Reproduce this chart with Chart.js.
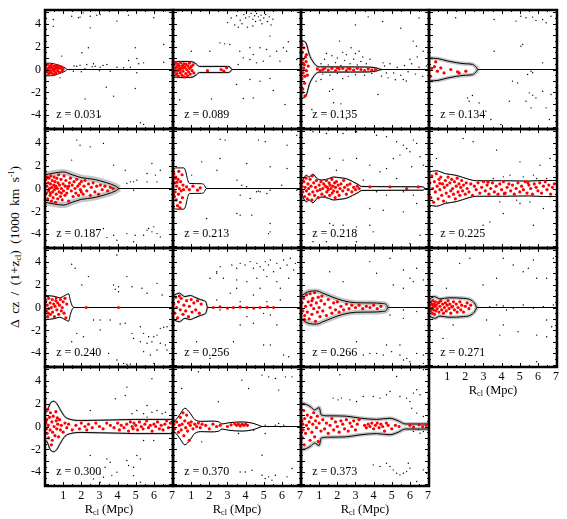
<!DOCTYPE html>
<html>
<head>
<meta charset="utf-8">
<script src="https://cdn.jsdelivr.net/npm/chart.js@4/dist/chart.umd.min.js"></script>
<style>
  body { margin: 0; background: #fff; }
  #fig { position: relative; width: 567px; height: 519px; font-family: 'Liberation Serif', serif; color: #000; }
  #fig canvas { position: absolute; }
  .xtitle { position: absolute; width: 128px; text-align: center; font-size: 12.5px; }
  .ytitle { position: absolute; left: 15px; top: 247px; transform: translate(-50%, -50%) rotate(-90deg); white-space: nowrap; font-size: 13.5px; word-spacing: 3px; }
  sub, sup { font-size: 8px; }
  sub { vertical-align: -2px; }
  sup { vertical-align: 5px; }
</style>
</head>
<body>
<div id="fig">
  <div class="ytitle">&Delta; cz / (1+z<sub>cl</sub>) (1000 km s<sup>-1</sup>)</div>
</div>
<script>
const xTickValues = [1, 2, 3, 4, 5, 6, 7]
const yTickValues = [-4, -2, 0, 2, 4]

// z = 0.031
const causticR031 = [0, 0.3, 0.6, 0.9, 1.1, 1.25, 7]
const causticA031 = [0.55, 0.55, 0.45, 0.3, 0.15, 0, 0]
const members031 = [[0.05,0.3],[0.1,-0.2],[0.15,0.45],[0.2,0.1],[0.2,-0.4],[0.25,0.25],[0.3,-0.1],[0.35,0.4],[0.35,-0.3],[0.4,0.15],[0.45,-0.45],[0.5,0.3],[0.5,-0.15],[0.55,0.05],[0.6,0.35],[0.6,-0.3],[0.65,0.2],[0.7,-0.1],[0.75,0.3],[0.8,-0.25],[0.85,0.1],[0.9,0.2],[0.95,-0.1],[1.0,0.05],[0.1,0.05],[0.3,0.2],[0.45,0.0],[0.7,0.1],[0.25,-0.25],[0.55,-0.4]]
const field031 = [[0.46,4.37],[1.47,4.66],[1.84,4.52],[1.93,4.58],[2.49,4.66],[2.85,4.75],[3.04,4.81],[4.6,4.75],[5.99,4.52],[2.1,4.95],[0.46,3.79],[3.96,4.23],[2.49,3.64],[6.54,2.19],[4.97,1.9],[2.39,1.9],[2.03,1.46],[0.92,1.17],[5.06,0.96],[5.43,0.58],[6.54,0.64],[4.6,0.79],[4.7,0.2],[5.16,0.5],[3.41,0.44],[2.67,0.5],[2.76,0.29],[1.75,0.29],[1.93,0.38],[2.3,0.44],[3.04,0.2],[3.96,0.2],[4.33,0.15],[4.51,0],[3.59,-0.15],[1.38,0],[1.56,-0.15],[5.06,-0.29],[0.83,-0.73],[3.37,-1.55],[3.78,-2.33],[4.97,-1.66],[2.21,-2.57],[5.25,-4.66],[5.43,-4.81],[3.04,-4.08],[1.6,0.3],[2.2,0.1],[2.6,0.25],[3.2,0.35],[3.0,-0.1],[2.0,-0.2]]

// z = 0.089
const causticR089 = [0, 0.4, 0.8, 1.1, 1.3, 1.45, 3.0, 3.15, 3.25, 7]
const causticA089 = [0.65, 0.7, 0.7, 0.65, 0.45, 0.27, 0.27, 0.2, 0, 0]
const members089 = [[0.05,0.4],[0.08,-0.2],[0.12,0.1],[0.15,0.55],[0.18,-0.45],[0.2,0.25],[0.25,-0.1],[0.28,0.45],[0.3,-0.6],[0.32,0.05],[0.35,0.3],[0.4,-0.3],[0.42,0.6],[0.45,0.1],[0.5,-0.5],[0.52,0.35],[0.55,-0.15],[0.6,0.5],[0.62,-0.65],[0.65,0.2],[0.7,-0.35],[0.72,0.45],[0.75,0.0],[0.8,-0.55],[0.82,0.3],[0.85,-0.2],[0.9,0.55],[0.92,0.1],[0.95,-0.4],[1.0,0.25],[1.05,-0.1],[1.1,0.4],[1.15,-0.3],[0.38,-0.05],[0.58,0.15],[0.22,-0.35],[1.9,-0.1],[2.65,0.0],[2.95,0.15],[2.8,-0.15]]
const field089 = [[3.0,4.1],[3.2,4.5],[3.4,3.9],[3.5,4.7],[3.7,4.3],[3.8,4.0],[3.9,4.8],[4.0,4.5],[4.1,3.7],[4.2,4.6],[4.3,4.9],[4.4,4.4],[4.5,4.7],[4.55,4.2],[4.6,4.9],[4.7,4.6],[4.8,4.3],[4.85,4.75],[4.9,4.0],[5.0,4.5],[5.1,4.8],[5.2,4.2],[5.3,4.6],[5.4,3.9],[5.5,4.4],[4.4,3.8],[3.6,3.7],[2.58,2.33],[3.13,2.19],[2.85,2.24],[5.34,2.92],[6.35,2.42],[4.24,1.9],[4.79,1.9],[5.16,1.75],[5.71,1.6],[6.26,1.6],[3.68,1.6],[2.03,1.6],[1.01,1.6],[4.42,1.31],[5.34,1.17],[4.24,0.87],[4.97,0.73],[4.6,0.58],[5.89,0.73],[3.59,0.44],[3.87,1.02],[5.34,-0.79],[4.24,-0.87],[4.79,-1.02],[5.52,-1.84],[4.42,-2.48],[3.87,-2.54],[2.12,-2.57],[0.37,-2.65],[6.17,-3.06],[3.5,-1.31],[6.81,0.87],[6.08,1.9]]

// z = 0.135
const causticR135 = [0, 0.1, 0.28, 0.46, 0.64, 0.83, 1.0, 3.5, 4.1, 4.45, 7]
const causticA135 = [2.6, 2.5, 2.3, 1.3, 0.73, 0.35, 0.23, 0.22, 0.15, 0, 0]
const members135 = [[0.05,2.2],[0.08,1.5],[0.1,0.9],[0.12,-0.3],[0.15,1.9],[0.18,0.4],[0.2,-1.2],[0.22,-2.3],[0.05,-0.8],[0.25,1.1],[0.3,-0.1],[0.1,-1.7],[0.28,0.7],[0.35,-0.5],[0.15,0.1],[0.2,-0.6],[0.4,0.3],[0.08,-2.0],[0.3,1.3],[0.12,0.55],[0.9,0.05],[1.05,-0.1],[1.3,0.1],[1.5,-0.05],[1.7,0.1],[1.9,-0.1],[2.1,0.05],[2.3,0.1],[2.5,-0.1],[2.7,0.05],[2.9,-0.05],[3.1,0.1],[3.3,0.0],[3.5,-0.1],[3.7,0.05],[3.9,-0.05],[4.1,0.0],[1.2,0.0],[2.0,0.15],[2.6,0.12]]
const field135 = [[2.76,1.9],[2.12,2.48],[1.57,-1.9],[1.75,-1.75],[0.83,-1.02],[1.1,-0.87],[6.18,2.48],[6.36,2.04],[6.73,1.6],[4.52,0.58],[4.43,-0.58],[4.8,-0.73],[5.63,-0.87],[4.24,-2.19],[1.1,0.5],[1.3,0.9],[1.5,0.4],[1.7,1.2],[1.9,0.6],[2.0,1.0],[2.2,0.35],[2.4,0.8],[2.5,1.3],[2.7,0.5],[2.9,0.9],[3.0,1.4],[3.1,0.4],[3.3,0.7],[3.4,1.1],[3.6,0.5],[3.8,0.9],[3.2,1.6],[2.3,1.5],[1.4,1.4],[1.2,-0.4],[1.6,-0.5],[2.0,-0.35],[2.6,-0.6],[3.0,-0.45],[3.5,-0.5],[3.9,-0.35],[2.3,-0.8],[4.6,0.3],[4.9,0.5],[5.1,-0.3],[5.3,0.2],[5.5,-0.5],[5.7,0.35],[5.9,-0.2],[6.1,0.5],[6.3,-0.4],[6.5,0.2],[6.7,-0.6],[6.9,0.3],[5.2,-0.9],[5.8,-1.0],[6.0,0.9],[6.4,1.1],[4.7,-0.3],[0.6,-3.5],[2.2,-3.0],[1.8,-2.9],[3.0,3.9],[3.7,4.6],[4.5,4.2],[5.5,3.6],[6.5,4.5],[2.5,-4.3]]

// z = 0.134
const causticR134 = [0, 0.5, 1.0, 1.5, 2.0, 2.4, 2.6, 2.7, 7]
const causticA134 = [1.0, 0.95, 0.75, 0.6, 0.5, 0.45, 0.2, 0, 0]
const members134 = [[0.37,0.67],[0.65,0.14],[0.46,-0.15],[0.83,-0.3],[1.2,0.0],[1.66,-0.3],[2.03,-0.15],[0.09,-0.59],[1.57,-0.2],[0.3,0.25],[0.15,0.1]]
const field134 = [[1.47,4.52],[3.59,4.37],[4.79,4.23],[5.06,4.66],[5.34,4.52],[5.71,4.58],[5.89,4.29],[6.26,4.37],[6.45,4.08],[6.72,4.66],[5.16,2.19],[5.06,2.04],[3.59,1.6],[6.26,0.58],[5.71,-0.29],[5.62,-0.15],[5.43,-0.44],[4.6,-1.02],[4.88,-1.17],[2.39,-2.27],[2.12,-2.48],[2.21,-2.77],[2.76,-2.92],[3.13,-3.64],[4.42,-2.77],[5.52,-2.04],[5.71,-2.24],[5.89,-2.48],[5.34,-2.77],[5.62,-3.35],[6.26,-1.9],[6.45,-3.35],[6.72,-2.19],[3.41,-4.37],[3.96,-4.81],[6.63,-4.37]]

// z = 0.187
const causticR187 = [0, 0.5, 1.0, 1.5, 2.0, 2.7, 3.4, 3.9, 4.1, 7]
const causticA187 = [1.2, 1.35, 1.45, 1.2, 0.95, 0.8, 0.5, 0.2, 0, 0]
const members187 = [[0.05,0.8],[0.08,-0.4],[0.1,0.2],[0.12,1.0],[0.15,-0.9],[0.18,0.5],[0.2,-0.2],[0.22,0.9],[0.25,0.0],[0.28,-0.6],[0.3,0.4],[0.32,1.1],[0.35,-1.1],[0.38,0.1],[0.4,0.7],[0.42,-0.3],[0.45,-0.8],[0.48,0.3],[0.5,1.0],[0.52,-0.1],[0.55,0.6],[0.58,-1.2],[0.6,0.2],[0.62,-0.5],[0.65,0.9],[0.68,0.0],[0.7,-0.9],[0.72,0.5],[0.75,1.2],[0.78,-0.3],[0.8,0.3],[0.85,-0.7],[0.88,0.8],[0.9,0.0],[0.95,-1.0],[1.0,0.4],[1.02,-0.2],[1.05,1.1],[1.1,-0.6],[1.12,0.2],[1.15,0.7],[1.2,-0.4],[1.25,0.0],[1.3,-1.1],[1.35,0.5],[1.4,0.9],[1.45,-0.2],[1.5,0.3],[1.55,-0.7],[1.6,0.6],[1.65,0.0],[1.7,-0.4],[1.75,0.8],[1.8,0.2],[1.85,-0.6],[1.9,0.4],[1.95,-0.1],[2.0,0.6],[2.1,-0.5],[2.15,0.2],[2.2,0.7],[2.3,-0.2],[2.4,0.4],[2.5,-0.6],[2.55,0.1],[2.65,0.5],[2.75,-0.3],[2.85,0.2],[2.95,-0.5],[3.05,0.3],[3.15,-0.1],[3.3,0.2],[3.45,-0.2],[3.6,0.1],[3.75,0.0],[0.3,-0.4],[0.6,0.1],[1.3,0.2],[0.9,-0.4],[2.0,-0.3]]
const field187 = [[1.75,4.23],[1.93,3.79],[2.49,3.64],[3.22,3.94],[1.47,2.48],[3.78,2.04],[4.42,1.6],[5.89,2.19],[5.62,1.31],[6.08,1.17],[4.7,0.58],[4.88,0.58],[4.51,0.44],[5.06,0.73],[5.62,0.58],[6.17,0.58],[4.88,-0.15],[3.22,-3.5],[3.41,-4.29],[3.78,-4.08],[4.51,-3.94],[4.97,-4.08],[5.43,-4.08],[5.71,-3.5],[5.89,-3.79],[5.99,-3.35],[6.17,-3.94],[6.35,-4.23],[5.62,-3.64],[3.96,-4.52],[4.88,-4.66],[6.35,1.6]]

// z = 0.213
const causticR213 = [0, 0.15, 0.6, 0.7, 0.8, 0.9, 1.55, 1.7, 1.85, 7]
const causticA213 = [1.6, 1.8, 1.8, 1.5, 0.8, 0.45, 0.42, 0.35, 0, 0]
const members213 = [[0.05,1.3],[0.1,0.5],[0.12,-0.3],[0.15,1.0],[0.18,-1.0],[0.2,0.2],[0.25,-1.5],[0.28,0.8],[0.3,-0.5],[0.32,1.5],[0.35,0.0],[0.4,-1.2],[0.42,0.6],[0.45,-0.2],[0.5,1.2],[0.52,-0.8],[0.55,0.3],[0.08,-0.7],[0.22,0.55],[0.38,-1.7],[0.58,-0.1],[0.12,0.9],[0.75,0.15],[0.9,-0.1],[1.1,0.2],[1.35,-0.15],[1.5,0.05]]
const field213 = [[1.58,2.33],[2.6,4.31],[2.87,4.23],[4.71,4.23],[5.08,4.08],[6.28,3.79],[4.06,2.19],[5.35,1.9],[6.28,1.75],[3.52,0.73],[3.79,0.29],[4.06,0.15],[4.6,-0.29],[4.7,-0.23],[4.8,-0.29],[5.17,-0.44],[5.35,-0.15],[5.99,0.29],[6.82,-0.15],[3.7,-0.58],[4.25,-0.87],[3.52,-2.19],[3.7,-2.33],[4.34,-2.33],[5.35,-3.06],[5.35,-3.79],[5.26,-3.94],[1.85,-2.62],[1.03,1.17],[6.82,4.66],[2.42,1.6],[2.59,2.62]]

// z = 0.218
const causticR218 = [0, 0.15, 0.3, 0.45, 0.65, 0.9, 1.2, 1.5, 1.8, 2.1, 2.5, 2.85, 3.15, 3.35, 6.7, 6.85, 7]
const causticA218 = [0.4, 0.9, 1.15, 1.0, 1.25, 0.85, 0.75, 0.85, 1.0, 0.95, 0.85, 0.6, 0.35, 0.17, 0.15, 0, 0]
const members218 = [[0.05,0.2],[0.1,-0.3],[0.15,0.6],[0.2,-0.7],[0.22,0.1],[0.28,0.9],[0.3,-0.2],[0.35,-0.9],[0.38,0.4],[0.42,0.0],[0.45,-0.5],[0.5,0.8],[0.55,0.2],[0.6,-1.0],[0.62,1.1],[0.65,-0.3],[0.7,0.5],[0.75,-0.6],[0.8,0.1],[0.85,0.7],[0.9,-0.2],[0.95,-0.8],[1.0,0.3],[1.05,-0.1],[1.1,0.6],[1.15,-0.5],[1.2,0.0],[1.25,0.4],[1.3,-0.7],[1.35,0.2],[1.4,0.7],[1.42,-0.3],[1.45,0.1],[1.5,-0.1],[1.55,0.5],[1.58,-0.6],[1.6,0.3],[1.65,0.0],[1.7,0.8],[1.72,-0.4],[1.75,0.2],[1.8,-0.2],[1.85,0.5],[1.88,-0.8],[1.9,0.1],[1.95,0.6],[2.0,-0.3],[2.05,0.3],[2.1,-0.6],[2.15,0.0],[2.2,0.4],[2.3,-0.2],[2.35,0.7],[2.4,0.1],[2.5,-0.5],[2.55,0.3],[2.6,-0.1],[2.7,0.4],[2.8,-0.3],[2.9,0.1],[3.0,-0.1],[3.1,0.2],[3.2,0.0],[3.79,0.15],[4.9,0.15],[5.82,0.0],[6.46,0.15]]
const field218 = [[0.66,4.96],[1.4,4.81],[2.32,4.81],[3.06,4.96],[4.16,4.66],[4.71,4.52],[5.27,4.08],[5.64,3.79],[5.82,3.5],[6.0,3.21],[6.19,4.23],[6.37,3.94],[6.56,2.77],[6.74,2.04],[6.1,1.9],[5.45,2.92],[5.08,2.62],[1.58,2.62],[2.32,2.48],[3.06,2.62],[3.79,2.04],[4.35,1.46],[4.71,1.75],[5.27,0.87],[3.43,0.73],[1.95,1.6],[4.16,-0.29],[4.71,-0.58],[5.64,-0.29],[6.19,-0.58],[3.79,-1.75],[4.53,-1.9],[5.64,-2.04],[6.37,-1.31],[2.32,-3.21],[3.06,-3.35],[3.79,-3.21],[3.98,-3.79],[1.58,-3.06],[1.77,-3.21],[3.06,-4.66],[6.0,-4.81],[1.4,-4.66],[0.66,-4.66],[6.56,-4.08]]

// z = 0.225
const causticR225 = [0, 0.4, 0.9, 1.5, 2.2, 2.6, 4.0, 5.5, 6.3, 7]
const causticA225 = [1.45, 1.55, 1.3, 1.15, 0.8, 0.68, 0.68, 0.65, 0.7, 0.7]
const members225 = [[0.05,0.5],[0.1,-0.8],[0.15,1.1],[0.2,0.0],[0.25,-1.2],[0.3,0.6],[0.35,-0.3],[0.4,1.3],[0.45,0.2],[0.5,-0.9],[0.55,0.8],[0.6,-0.1],[0.65,1.0],[0.7,-0.6],[0.75,0.4],[0.8,-1.1],[0.85,0.1],[0.9,0.7],[0.95,-0.4],[1.0,0.3],[1.05,1.0],[1.1,-0.7],[1.15,0.5],[1.2,-0.2],[1.25,0.8],[1.3,0.0],[1.35,-0.5],[1.4,0.6],[1.45,-0.9],[1.5,0.2],[1.55,0.9],[1.6,-0.3],[1.65,0.4],[1.7,-0.6],[1.75,0.1],[1.8,0.7],[1.85,-0.2],[1.9,0.3],[2.0,-0.5],[2.05,0.5],[2.1,0.0],[2.2,-0.3],[2.3,0.4],[2.4,-0.6],[2.5,0.2],[2.6,-0.1],[2.7,0.5],[2.8,-0.4],[2.9,0.1],[3.0,0.6],[3.1,-0.2],[3.2,0.3],[3.3,-0.5],[3.4,0.0],[3.5,0.5],[3.6,-0.3],[3.7,0.2],[3.8,-0.5],[3.9,0.4],[4.0,-0.1],[4.1,0.6],[4.2,-0.4],[4.3,0.1],[4.4,0.4],[4.5,-0.2],[4.6,0.3],[4.7,-0.5],[4.8,0.0],[4.9,0.5],[5.0,-0.3],[5.1,0.2],[5.2,-0.1],[5.3,0.6],[5.4,-0.4],[5.5,0.3],[5.6,0.0],[5.7,-0.5],[5.8,0.4],[5.9,0.1],[6.0,-0.2],[6.1,0.5],[6.2,-0.4],[6.3,0.2],[6.4,0.6],[6.5,-0.1],[6.6,0.3],[6.7,-0.5],[6.8,0.1],[6.9,0.4],[3.25,0.55],[4.15,-0.45],[5.45,0.5],[0.6,0.45]]
const field225 = [[1.88,4.37],[2.43,4.08],[3.72,3.35],[5.01,2.33],[6.11,2.04],[5.75,1.17],[6.48,0.87],[4.09,1.02],[3.54,0.87],[4.46,1.17],[5.19,1.02],[5.93,0.87],[3.9,-1.17],[4.83,-1.02],[5.01,-1.31],[5.56,-1.17],[6.67,-0.73],[6.3,-1.75],[5.75,-3.21],[4.09,-2.19],[3.35,-2.92],[2.98,-3.21],[0.96,-1.17],[0.41,2.62],[6.67,2.62]]

// z = 0.240
const causticR240 = [0, 0.5, 0.8, 1.1, 1.3, 1.4, 1.5, 1.6, 7]
const causticA240 = [1.05, 0.98, 0.85, 1.05, 1.2, 0.6, 0.15, 0, 0]
const members240 = [[0.05,0.6],[0.08,-0.3],[0.12,0.2],[0.15,-0.8],[0.2,0.8],[0.22,-0.1],[0.28,0.4],[0.3,-0.6],[0.35,0.0],[0.4,0.7],[0.42,-0.4],[0.48,0.3],[0.52,-0.8],[0.55,0.1],[0.6,0.6],[0.65,-0.2],[0.7,0.4],[0.75,-0.6],[0.8,0.2],[0.85,0.7],[0.9,-0.3],[0.95,0.0],[1.0,0.5],[1.05,-0.5],[1.1,0.8],[1.15,-0.9],[1.2,0.3],[0.18,-0.5],[0.62,0.85],[2.27,0.0],[4.05,0.0]]
const field240 = [[1.47,3.78],[1.66,3.43],[2.03,1.97],[2.39,2.7],[3.96,4.59],[4.05,1.82],[4.51,2.7],[4.79,1.82],[3.78,1.97],[3.87,1.59],[4.05,1.38],[5.34,1.68],[5.62,1.24],[6.17,2.11],[6.45,1.09],[2.67,-1.09],[3.04,-1.09],[3.59,-1.09],[2.12,-2.55],[3.04,-1.97],[4.14,-1.44],[4.79,-2.26],[5.25,-1.68],[5.43,-2.26],[5.71,-2.55],[5.99,-2.55],[6.17,-2.41],[6.35,-1.82],[6.54,-1.73],[6.72,-1.68],[5.25,-2.99],[5.62,-3.13],[5.89,-2.99],[6.35,-3.13],[6.63,-3.28],[6.72,-3.72],[6.17,-3.72],[1.47,-2.99],[3.5,-4.01],[3.96,-4.59],[4.33,-4.88],[4.51,-4.95],[4.7,-4.95],[5.43,-3.86],[5.8,-4.15],[5.99,-4.88],[4.88,-2.7],[4.42,-1.38],[1.75,-2.26]]

// z = 0.256
const causticR256 = [0, 0.35, 0.65, 0.95, 1.2, 1.5, 1.7, 1.82, 1.9, 7]
const causticA256 = [1.05, 1.25, 0.95, 1.05, 0.9, 0.7, 0.6, 0.45, 0, 0]
const members256 = [[0.05,0.3],[0.1,-0.5],[0.15,0.9],[0.2,0.0],[0.25,-0.9],[0.3,0.5],[0.4,-0.2],[0.45,0.8],[0.55,-0.6],[0.6,0.2],[0.7,-0.3],[0.75,0.6],[0.85,-0.8],[0.9,0.1],[1.0,0.7],[1.05,-0.4],[1.15,0.4],[1.25,-0.2],[1.35,0.6],[1.45,-0.5],[1.55,0.3],[0.35,1.0],[2.22,0.0],[2.59,0.05],[3.0,-0.05],[3.33,0.0],[3.7,0.05],[4.07,0.0],[4.45,-0.05],[4.8,0.0],[5.2,0.05],[5.54,0.0]]
const field256 = [[2.04,2.55],[2.41,3.13],[2.6,3.57],[3.24,3.72],[3.51,3.43],[3.7,3.86],[3.97,3.72],[4.25,4.01],[4.43,3.43],[4.62,3.86],[4.8,3.57],[4.99,3.28],[5.08,4.01],[5.26,3.72],[5.36,4.15],[5.54,3.13],[5.72,3.86],[5.91,3.43],[6.09,4.15],[6.28,3.72],[6.46,4.3],[6.65,3.28],[6.74,3.86],[2.78,2.55],[3.51,2.41],[4.07,2.26],[4.62,2.55],[5.17,2.7],[5.72,2.26],[6.37,2.55],[3.51,1.68],[4.8,1.68],[5.91,1.68],[3.15,1.24],[4.43,1.09],[2.41,0.66],[3.7,0.51],[5.17,0.51],[5.91,0.66],[2.59,-0.22],[4.99,-0.51],[5.36,-0.66],[4.07,-0.8],[3.7,-1.53],[4.43,-1.38],[5.72,-1.53],[3.33,-2.99],[4.99,-3.28],[5.36,-3.28],[6.09,-4.15],[6.37,-4.3],[2.04,-4.45],[1.3,-2.99],[2.41,2.99]]

// z = 0.266
const causticR266 = [0, 0.45, 0.85, 1.2, 1.75, 2.3, 3.0, 3.8, 4.5, 4.7, 4.8, 7]
const causticA266 = [1.0, 1.4, 1.45, 1.25, 0.9, 0.6, 0.42, 0.4, 0.35, 0.25, 0, 0]
const members266 = [[0.05,0.4],[0.1,-0.3],[0.15,0.8],[0.2,-0.7],[0.25,0.1],[0.3,1.1],[0.35,-0.4],[0.4,0.5],[0.45,-1.0],[0.5,1.2],[0.55,0.2],[0.6,-0.6],[0.65,0.8],[0.7,-0.1],[0.75,1.3],[0.8,-1.2],[0.85,0.4],[0.9,-0.4],[0.95,0.9],[1.0,0.0],[1.05,-0.8],[1.1,0.6],[1.15,1.0],[1.2,-0.3],[1.3,0.3],[1.4,-0.7],[1.5,0.7],[1.6,0.0],[1.7,-0.5],[1.8,0.4],[1.9,-0.2],[2.0,0.5],[2.1,-0.4],[2.2,0.1],[2.35,-0.2],[2.5,0.3],[2.65,-0.1],[2.8,0.2],[3.0,0.0],[3.2,0.2],[3.4,-0.1],[3.6,0.1],[3.8,0.0],[4.0,0.2],[4.2,-0.1],[4.4,0.1],[0.2,-1.05],[0.6,0.6]]
const field266 = [[3.79,4.01],[4.16,2.99],[4.9,4.3],[5.64,3.28],[6.0,2.55],[6.19,2.26],[5.08,1.97],[5.64,1.68],[6.37,3.43],[1.58,3.13],[2.32,2.26],[6.74,2.41],[5.64,-0.22],[6.37,-0.36],[4.9,-0.66],[5.64,-0.95],[4.71,-3.28],[5.45,-3.28],[5.45,-4.15],[5.64,-4.59],[5.82,-4.45],[6.0,-4.74],[6.37,-4.01],[6.74,-4.15],[3.79,-4.01],[4.16,-4.01],[3.43,-4.15],[4.53,-4.15],[4.99,-3.86],[2.69,-4.01],[6.74,-4.88],[3.06,-2.99]]

// z = 0.271
const causticR271 = [0, 0.3, 0.6, 1.1, 1.9, 2.25, 2.5, 2.65, 7]
const causticA271 = [0.7, 0.95, 0.75, 0.85, 0.8, 0.7, 0.4, 0, 0]
const members271 = [[0.05,0.2],[0.08,-0.3],[0.1,0.5],[0.12,-0.1],[0.15,0.3],[0.18,-0.5],[0.2,0.0],[0.22,0.6],[0.25,-0.2],[0.28,0.3],[0.3,-0.6],[0.32,0.1],[0.35,0.5],[0.38,-0.3],[0.4,0.2],[0.45,-0.1],[0.5,0.4],[0.55,-0.4],[0.6,0.1],[0.65,0.6],[0.7,-0.2],[0.75,0.3],[0.8,-0.5],[0.85,0.0],[0.9,0.4],[0.95,-0.3],[1.0,0.2],[1.05,0.6],[1.1,-0.1],[1.15,0.3],[1.2,-0.5],[1.3,0.1],[1.35,0.5],[1.4,-0.2],[1.5,0.3],[1.55,-0.4],[1.6,0.0],[1.7,0.5],[1.75,-0.2],[1.8,0.2],[1.9,-0.4],[2.0,0.1],[2.1,0.4],[2.2,-0.1],[2.3,0.2],[0.55,0.45],[0.25,0.15],[1.25,0.05]]
const field271 = [[0.96,1.68],[1.69,3.86],[2.25,4.3],[4.09,4.3],[4.64,3.72],[5.19,3.13],[5.47,3.43],[5.75,4.15],[5.93,2.55],[6.48,2.55],[6.85,4.3],[3.72,2.55],[2.98,1.97],[3.35,0.07],[3.72,0.22],[4.09,0.13],[4.27,-0.22],[4.64,-0.07],[5.19,0.22],[5.75,-0.07],[6.3,0.07],[6.85,0.22],[6.48,-1.09],[6.76,-1.68],[4.09,-1.53],[3.9,-2.41],[4.9,-2.11],[5.93,-2.41],[6.48,-2.55],[1.33,-1.53],[0.77,-2.7],[3.17,-1.09],[5.93,-4.74]]

// z = 0.300
const causticR300 = [0, 0.1, 0.3, 0.5, 0.65, 0.85, 1.1, 1.4, 2.0, 3.0, 4.0, 5.0, 6.0, 7.0]
const causticA300 = [1.2, 1.3, 2.05, 2.2, 2.0, 1.45, 0.85, 0.62, 0.52, 0.55, 0.58, 0.62, 0.62, 0.62]
const members300 = [[0.05,0.3],[0.08,-0.2],[0.1,0.6],[0.12,-0.6],[0.15,1.5],[0.18,0.1],[0.2,-1.0],[0.25,0.8],[0.28,-0.3],[0.3,1.2],[0.35,-1.6],[0.38,0.4],[0.42,-0.5],[0.45,0.9],[0.5,0.0],[0.55,-0.8],[0.6,1.3],[0.62,0.5],[0.65,-0.2],[0.7,0.2],[0.75,-0.9],[0.8,0.6],[0.85,-0.3],[0.9,0.1],[1.0,-0.5],[1.1,0.3],[1.2,-0.1],[1.3,0.2],[1.5,-0.3],[1.7,0.1],[1.9,-0.2],[2.0,0.3],[2.2,0.0],[2.3,-0.3],[2.4,0.2],[2.6,-0.1],[2.8,0.3],[3.0,0.0],[3.2,-0.2],[3.4,0.3],[3.6,0.1],[3.8,-0.1],[4.0,0.3],[4.1,-0.3],[4.2,0.1],[4.35,-0.1],[4.5,0.2],[4.6,-0.4],[4.7,0.4],[4.8,0.0],[4.85,-0.2],[4.9,0.3],[5.0,0.1],[5.1,-0.3],[5.2,0.4],[5.3,0.0],[5.4,-0.2],[5.5,0.2],[5.6,0.5],[5.7,-0.1],[5.8,0.1],[5.9,-0.4],[6.0,0.2],[6.1,0.0],[6.2,0.4],[6.3,-0.2],[6.4,0.1],[6.5,-0.3],[6.6,0.2],[6.7,0.5],[6.8,-0.1],[6.9,0.3],[0.4,-1.2],[0.68,0.75]]
const field300 = [[2.49,1.4],[4.51,3.44],[4.42,2.71],[3.87,2.42],[5.06,1.4],[5.43,1.11],[5.89,1.25],[6.17,1.4],[6.45,1.11],[6.63,1.25],[4.79,1.11],[5.62,0.82],[3.41,-2.83],[3.59,-3.12],[3.31,-3.56],[3.04,-4.14],[3.22,-4.43],[3.68,-4.29],[3.96,-3.99],[4.51,-2.97],[4.6,-3.41],[4.88,-3.56],[5.06,-2.54],[5.25,-2.83],[4.88,-4.29],[5.25,-4.87],[5.99,-1.22],[5.43,-1.22],[2.67,-4.58],[3.04,-4.87],[2.49,-2.54],[0.74,-3.99],[5.89,4.17],[5.62,1.84]]

// z = 0.370
const causticR370 = [0, 0.1, 0.4, 0.65, 0.95, 1.2, 1.6, 2.1, 2.5, 2.7, 3.05, 3.8, 4.35, 4.7, 4.9, 7]
const causticA370 = [0.45, 0.5, 1.1, 1.6, 1.15, 0.6, 0.45, 0.47, 0.42, 0.22, 0.32, 0.4, 0.3, 0.12, 0, 0]
const members370 = [[0.05,0.2],[0.1,-0.2],[0.2,0.4],[0.3,-0.5],[0.35,0.1],[0.4,0.8],[0.45,-0.3],[0.5,0.2],[0.55,1.2],[0.6,-0.8],[0.65,0.5],[0.7,-0.1],[0.75,1.0],[0.8,-0.4],[0.85,0.3],[0.9,-1.2],[0.95,0.1],[1.0,0.4],[1.1,-0.2],[1.2,0.2],[1.3,0.0],[1.4,0.3],[1.5,-0.1],[1.6,0.2],[1.8,0.1],[2.0,-0.2],[2.2,0.2],[2.4,0.0],[2.6,0.1],[3.0,0.0],[3.2,0.15],[3.4,0.25],[3.5,0.1],[3.6,0.2],[3.7,0.05],[3.8,0.2],[3.9,0.1],[4.0,0.2],[4.1,0.1]]
const field370 = [[4.9,4.49],[5.27,4.34],[5.64,4.2],[6.19,4.34],[6.56,4.34],[4.16,3.32],[5.82,3.18],[3.79,4.05],[4.9,-2.51],[3.61,-0.61],[5.08,-0.61],[5.64,0.12],[5.82,0.26],[6.1,0.12],[5.91,-0.03],[5.08,0.12],[5.27,0],[4.44,-0.32],[3.7,-3.97],[3.98,-3.97],[4.35,-3.82],[4.9,-4.26],[5.08,-4.55],[5.27,-4.4],[5.45,-4.69],[5.64,-4.26],[6.28,-4.4],[6.56,-3.67],[1.58,-1.34],[0.48,3.32],[1.4,4.78],[2.5,2.16]]

// z = 0.373
const causticR373 = [0, 0.1, 0.5, 0.75, 1.0, 1.12, 1.6, 2.5, 3.25, 4.15, 4.9, 5.35, 5.75, 7]
const causticA373 = [2.0, 2.0, 1.75, 1.45, 1.65, 1.0, 0.93, 0.9, 0.73, 0.62, 0.72, 0.5, 0.22, 0.22]
const members373 = [[0.05,0.5],[0.08,-1.0],[0.1,0.2],[0.12,-0.3],[0.15,1.4],[0.18,-1.6],[0.2,0.7],[0.25,-0.6],[0.3,0.1],[0.35,1.0],[0.4,-0.2],[0.45,0.4],[0.5,-1.2],[0.55,0.8],[0.6,-0.5],[0.65,0.2],[0.7,1.2],[0.75,-0.9],[0.8,0.5],[0.85,-0.1],[0.9,0.9],[0.95,-1.3],[1.0,0.3],[1.1,-0.4],[1.2,0.6],[1.3,-0.2],[1.4,0.3],[1.5,-0.6],[1.6,0.1],[1.7,0.7],[1.8,-0.3],[1.9,0.4],[2.0,0.0],[2.1,-0.5],[2.2,0.5],[2.3,0.2],[2.4,-0.2],[2.5,0.6],[2.6,-0.4],[2.7,0.3],[2.8,0.0],[2.9,0.5],[3.0,-0.3],[3.1,0.2],[3.2,0.6],[3.5,0.1],[3.6,-0.1],[3.7,0.2],[3.8,0.0],[3.9,0.3],[4.0,-0.2],[4.1,0.1],[4.2,0.3],[4.3,-0.1],[4.4,0.2],[4.5,0.0],[4.6,-0.4],[4.7,0.3],[4.8,0.1],[5.0,-0.2],[5.2,0.1],[5.4,0.0],[6.0,0.1],[6.2,-0.05],[6.5,0.15],[6.7,0.0],[6.9,0.1]]
const field373 = [[1.77,2.48],[2.04,2.33],[2.23,2.48],[2.69,2.33],[3.06,2.19],[3.43,2.62],[3.98,2.62],[4.35,2.48],[4.71,2.77],[4.9,3.06],[5.45,2.62],[5.82,2.48],[6.0,2.19],[6.19,2.92],[6.37,3.21],[6.56,2.77],[6.1,1.6],[6.37,1.17],[6.74,0.87],[6.46,-0.29],[6.56,-0.58],[6.74,-0.44],[6.19,-0.44],[5.27,4.37],[2.14,4.52],[6.74,4.96],[4.35,-3.5],[4.71,-3.21],[4.9,-3.5],[5.08,-3.79],[5.27,-4.08],[5.45,-4.23],[5.64,-4.08],[5.82,-3.94],[6.0,-3.64],[5.91,-3.21],[3.98,-3.35],[6.74,-3.79],[6.92,-4.08],[6.37,-4.81]]

const panels = [
  { z: '0.031', members: members031, field: field031, r: causticR031, a: causticA031 },
  { z: '0.089', members: members089, field: field089, r: causticR089, a: causticA089 },
  { z: '0.135', members: members135, field: field135, r: causticR135, a: causticA135 },
  { z: '0.134', members: members134, field: field134, r: causticR134, a: causticA134 },
  { z: '0.187', members: members187, field: field187, r: causticR187, a: causticA187 },
  { z: '0.213', members: members213, field: field213, r: causticR213, a: causticA213 },
  { z: '0.218', members: members218, field: field218, r: causticR218, a: causticA218 },
  { z: '0.225', members: members225, field: field225, r: causticR225, a: causticA225 },
  { z: '0.240', members: members240, field: field240, r: causticR240, a: causticA240 },
  { z: '0.256', members: members256, field: field256, r: causticR256, a: causticA256 },
  { z: '0.266', members: members266, field: field266, r: causticR266, a: causticA266 },
  { z: '0.271', members: members271, field: field271, r: causticR271, a: causticA271 },
  { z: '0.300', members: members300, field: field300, r: causticR300, a: causticA300 },
  { z: '0.370', members: members370, field: field370, r: causticR370, a: causticA370 },
  { z: '0.373', members: members373, field: field373, r: causticR373, a: causticA373 },
]

// grey band width around each caustic (style, per panel)
const shadeWidth = [0, 2, 2, 4, 6, 0, 1.5, 1, 1, 2, 5, 4, 2, 1, 4]

const colLeft = [45, 173, 301, 429]
const rowTop = [10, 129, 248, 367]
const panelW = 128
const panelH = 119
const serif = "'Liberation Serif', serif"

// inward ticks, frame and redshift label
const framePlugin = {
  id: 'frame',
  afterDraw(chart, args, opts) {
    const { ctx, chartArea: a, scales: { x, y } } = chart
    ctx.save()
    ctx.strokeStyle = '#000'
    ctx.lineWidth = 1
    ctx.beginPath()
    for (let v = 0.5; v < 7; v += 0.5) {
      const px = Math.round(x.getPixelForValue(v)) + 0.5
      const len = v % 1 === 0 ? 4 : 2
      ctx.moveTo(px, a.top); ctx.lineTo(px, a.top + len)
      ctx.moveTo(px, a.bottom); ctx.lineTo(px, a.bottom - len)
    }
    for (let v = -5; v <= 5; v += 0.5) {
      const py = Math.round(y.getPixelForValue(v)) + 0.5
      const len = v % 1 === 0 ? 4 : 2
      ctx.moveTo(a.left, py); ctx.lineTo(a.left + len, py)
      ctx.moveTo(a.right, py); ctx.lineTo(a.right - len, py)
    }
    ctx.stroke()
    ctx.lineWidth = 2.5
    ctx.strokeRect(a.left, a.top, a.right - a.left, a.bottom - a.top)
    ctx.fillStyle = '#000'
    ctx.font = '12px ' + serif
    ctx.textBaseline = 'middle'
    ctx.fillText('z = ' + opts.z, x.getPixelForValue(0.62), y.getPixelForValue(-4.0))
    ctx.restore()
  },
}

const fig = document.getElementById('fig')
const toXY = (p) => ({ x: p[0], y: p[1] })

panels.forEach((p, i) => {
  const row = Math.floor(i / 4)
  const col = i % 4
  const hasX = row === 3 || (row === 2 && col === 3)
  const hasY = col === 0
  const axisW = hasY ? 32 : 0
  const axisH = hasX ? 26 : 0
  const pad = { left: hasY ? 0 : 12, right: 12, top: 12, bottom: hasX ? 0 : 12 }

  const canvas = document.createElement('canvas')
  canvas.width = pad.left + axisW + panelW + pad.right
  canvas.height = pad.top + panelH + axisH + pad.bottom
  canvas.style.left = (colLeft[col] - pad.left - axisW) + 'px'
  canvas.style.top = (rowTop[row] - pad.top) + 'px'
  fig.appendChild(canvas)

  if (hasX) {
    const t = document.createElement('div')
    t.className = 'xtitle'
    t.innerHTML = 'R<sub>cl</sub> (Mpc)'
    t.style.left = colLeft[col] + 'px'
    t.style.top = (rowTop[row] + panelH + 16) + 'px'
    fig.appendChild(t)
  }

  const upper = p.r.map((r, k) => ({ x: r, y: p.a[k] }))
  const lower = p.r.map((r, k) => ({ x: r, y: -p.a[k] }))
  const close = p.a.findIndex((v, k) => k > 0 && v === 0)
  const n = close < 0 ? p.r.length : close + 1

  const line = (data, color, width) => ({
    type: 'line', data, borderColor: color, borderWidth: width,
    pointRadius: 0, fill: false, cubicInterpolationMode: 'monotone',
  })
  const shade = 'rgba(150,150,150,0.55)'

  new Chart(canvas, {
    type: 'scatter',
    data: {
      datasets: [
        { data: p.members.map(toXY), backgroundColor: '#ff0000', borderWidth: 0, pointRadius: 1.6 },
        line(upper, '#000', 1),
        line(lower, '#000', 1),
        line(upper.slice(0, n), shade, shadeWidth[i]),
        line(lower.slice(0, n), shade, shadeWidth[i]),
        { data: p.field.map(toXY), backgroundColor: '#000', borderWidth: 0, pointRadius: 0.7 },
      ],
    },
    options: {
      responsive: false,
      animation: false,
      events: [],
      layout: { padding: pad },
      plugins: { legend: { display: false }, tooltip: { enabled: false }, frame: { z: p.z } },
      scales: {
        x: {
          type: 'linear', min: 0, max: 7.05, display: hasX,
          grid: { display: false, drawTicks: false }, border: { display: false },
          afterBuildTicks: (s) => { s.ticks = xTickValues.map((v) => ({ value: v })) },
          afterFit: (s) => { s.height = axisH },
          ticks: { autoSkip: false, maxRotation: 0, padding: 3, color: '#000', font: { family: serif, size: 12 } },
        },
        y: {
          type: 'linear', min: -5.2, max: 5.2, display: hasY,
          grid: { display: false, drawTicks: false }, border: { display: false },
          afterBuildTicks: (s) => { s.ticks = yTickValues.map((v) => ({ value: v })) },
          afterFit: (s) => { s.width = axisW },
          ticks: { autoSkip: false, padding: 4, color: '#000', font: { family: serif, size: 12 } },
        },
      },
    },
    plugins: [framePlugin],
  })
})
</script>
</body>
</html>
